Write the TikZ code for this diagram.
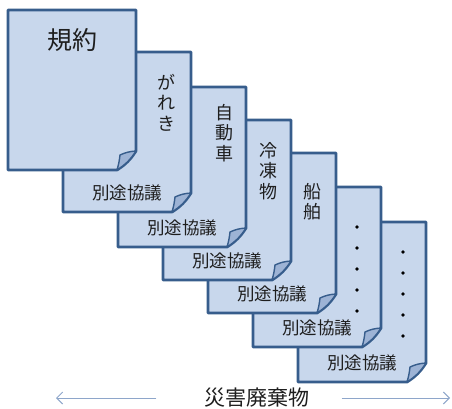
\documentclass[tikz,border=0pt]{standalone}
\usepackage{fontspec}
\newfontfamily\jp{Noto Sans CJK JP}
\usetikzlibrary{arrows.meta}
\definecolor{pagefill}{HTML}{C8D7EC}
\definecolor{pageline}{HTML}{375D8C}
\definecolor{flapfill}{HTML}{9DB3D5}
\definecolor{arrowcol}{HTML}{8EA6CA}
\definecolor{txt}{HTML}{1E1E1E}
\tikzset{
  pageshape/.style={draw=pageline,fill=pagefill,line width=2.8pt,line join=round},
  flapshape/.style={draw=pageline,fill=flapfill,line width=1.4pt,line join=round},
  vtext/.style={font=\jp\fontsize{18}{20.5}\selectfont,text=txt,align=center,inner sep=0pt,anchor=north},
  bottomtext/.style={font=\jp\fontsize{17.5}{20}\selectfont,text=txt,inner sep=0pt},
  dotmark/.style={fill=black,radius=1.9pt},
  sidearrow/.style={draw=arrowcol,line width=1pt,-{Straight Barb[length=6pt,width=12pt]}},
}
% #1 left, #2 top (page width 128, height 160, fold 19)
\newcommand{\docpage}[2]{%
  \path[pageshape] (#1,#2) -- ({#1+128},#2) -- ({#1+128},{#2+141})
     to[bend left=12] ({#1+109},{#2+160}) -- (#1,{#2+160}) -- cycle;
  \path[flapshape] ({#1+128},{#2+141}) to[bend right=10] ({#1+112},{#2+145})
     to[bend left=5] ({#1+109},{#2+160}) to[bend right=12] ({#1+128},{#2+141}) -- cycle;
}
\begin{document}
\begin{tikzpicture}[x=1pt,y=-1pt]
\useasboundingbox (0,0) rectangle (452,409);
% page 7
\docpage{298}{222}
\foreach \k in {0,...,4} \fill[dotmark] (403,{252+21*\k}) circle;
\node[bottomtext] (b7) at (362,363) {別途協議};
% page 6
\docpage{253}{187}
\foreach \k in {0,...,4} \fill[dotmark] (357,{227+21*\k}) circle;
\node[bottomtext] (b6) at (317,328) {別途協議};
% page 5
\docpage{208}{153}
\node[vtext] (t5) at (312,183) {船\\舶};
\node[bottomtext] (b5) at (272,294) {別途協議};
% page 4
\docpage{163}{120}
\node[vtext] (t4) at (268,142) {冷\\凍\\物};
\node[bottomtext] (b4) at (227,261) {別途協議};
% page 3
\docpage{118}{87}
\node[vtext] (t3) at (224,104) {自\\動\\車};
\node[bottomtext] (b3) at (182,228) {別途協議};
% page 2
\docpage{63}{52}
\node[vtext] (t2) at (166,74) {が\\れ\\き};
\node[bottomtext] (b2) at (127,193) {別途協議};
% page 1
\docpage{8}{10}
\node[font=\jp\fontsize{25}{28}\selectfont,text=txt,inner sep=0pt] (t1) at (72,40) {規約};
% bottom label and arrows
\node[font=\jp\fontsize{21}{24}\selectfont,text=txt,inner sep=0pt] (lab) at (257,398) {災害廃棄物};
\coordinate (la) at (56,398);
\coordinate (ra) at (450,398);
\draw[sidearrow] ([xshift=-48pt]lab.west) -- (la);
\draw[sidearrow] ([xshift=32pt]lab.east) -- (ra);
\end{tikzpicture}
\end{document}
